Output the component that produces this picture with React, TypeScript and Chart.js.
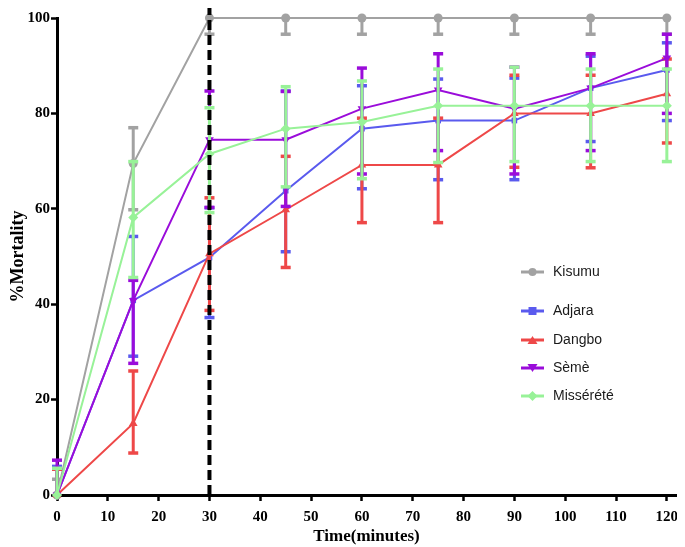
import { useEffect, useRef } from "react";
import { Chart, registerables } from "chart.js";

Chart.register(...registerables);

const times = [0, 15, 30, 45, 60, 75, 90, 105, 120];
const xTicks = [0, 10, 20, 30, 40, 50, 60, 70, 80, 90, 100, 110, 120];
const yTicks = [0, 20, 40, 60, 80, 100];
const seriesNames = ["Kisumu", "Adjara", "Dangbo", "Sèmè", "Missérété"];
const seriesColors = ["#A2A2A2", "#5A5AEE", "#EE4848", "#9A0CDA", "#98F298"];

const kisumu = [0, 69.5, 100, 100, 100, 100, 100, 100, 100];
const kisumuHi = [3.3, 77, 100, 100, 100, 100, 100, 100, 100];
const kisumuLo = [0, 59.8, 96.6, 96.6, 96.6, 96.6, 96.6, 96.6, 96.6];

const adjara = [0, 40.8, 49.8, 63.8, 76.8, 78.5, 78.5, 85.3, 89.1];
const adjaraHi = [6, 54.2, 60.2, 84.7, 85.8, 87.2, 87.4, 92, 94.8];
const adjaraLo = [0, 29.1, 37.2, 51, 64.2, 66.1, 66.1, 74.1, 78.5];

const dangbo = [0, 15, 50.6, 59.8, 69.2, 69.2, 80, 80, 84.1];
const dangboHi = [5.4, 26, 62.3, 71, 79, 79, 88, 88, 91.4];
const dangboLo = [0, 8.8, 38.7, 47.7, 57.1, 57.1, 68.7, 68.6, 73.8];

const seme = [0, 40.8, 74.5, 74.5, 81, 84.9, 81, 85.3, 91.6];
const semeHi = [7.3, 45, 84.7, 84.6, 89.5, 92.5, 89.7, 92.5, 96.6];
const semeLo = [0, 27.6, 60.3, 60.5, 67.3, 72.2, 67.3, 72.2, 80];

const misserete = [0, 58.2, 71.5, 76.8, 78.2, 81.6, 81.6, 81.6, 81.6];
const missereteHi = [5.6, 69.9, 81.2, 85.6, 86.8, 89.3, 89.7, 89.3, 89.3];
const missereteLo = [0, 45.6, 59.2, 64.6, 66.3, 69.7, 69.9, 69.9, 69.9];

const seriesValues = [kisumu, adjara, dangbo, seme, misserete];
const seriesHi = [kisumuHi, adjaraHi, dangboHi, semeHi, missereteHi];
const seriesLo = [kisumuLo, adjaraLo, dangboLo, semeLo, missereteLo];
const pointStyles = ["circle", "rect", "triangle", "triangle", "rectRot"];
const pointRotations = [0, 0, 0, 180, 0];
const pointRadii = [4.5, 4, 5, 5, 5];
const dashedLineX = 30;

const errorBarPlugin = {
  id: "errorBars",
  afterDatasetDraw(chart: any, args: any) {
    const i = args.index;
    const ds = chart.data.datasets[i];
    const hi = ds.errHi as number[];
    const lo = ds.errLo as number[];
    const xs = chart.scales.x;
    const ys = chart.scales.y;
    const ctx = chart.ctx;
    ctx.save();
    ctx.strokeStyle = ds.borderColor;
    ctx.lineCap = "butt";
    ds.data.forEach((p: any, k: number) => {
      const px = xs.getPixelForValue(p.x);
      const py = ys.getPixelForValue(p.y);
      [hi[k], lo[k]].forEach((v) => {
        if (v === undefined || Math.abs(v - p.y) < 0.01) return;
        const ey = ys.getPixelForValue(v);
        ctx.lineWidth = 3;
        ctx.beginPath();
        ctx.moveTo(px, py);
        ctx.lineTo(px, ey);
        ctx.stroke();
        ctx.lineWidth = 3.5;
        ctx.beginPath();
        ctx.moveTo(px - 5, ey);
        ctx.lineTo(px + 5, ey);
        ctx.stroke();
      });
    });
    ctx.restore();
  },
  afterDatasetsDraw(chart: any) {
    const ctx = chart.ctx;
    const xs = chart.scales.x;
    const px = xs.getPixelForValue(dashedLineX);
    ctx.save();
    ctx.strokeStyle = "#000";
    ctx.lineWidth = 4;
    ctx.setLineDash([10, 5]);
    ctx.beginPath();
    ctx.moveTo(px, chart.chartArea.bottom);
    ctx.lineTo(px, 0);
    ctx.stroke();
    ctx.restore();
  },
  afterDraw(chart: any) {
    const ctx = chart.ctx;
    const rows = [264, 303, 332, 360, 388];
    ctx.save();
    seriesNames.forEach((name, i) => {
      const y = rows[i];
      const x0 = 513;
      const x1 = 536;
      ctx.strokeStyle = seriesColors[i];
      ctx.lineWidth = 3;
      ctx.setLineDash([]);
      ctx.beginPath();
      ctx.moveTo(x0, y);
      ctx.lineTo(x1, y);
      ctx.stroke();
      ctx.fillStyle = seriesColors[i];
      const cx = (x0 + x1) / 2;
      ctx.beginPath();
      const s = pointStyles[i];
      if (s === "circle") {
        ctx.arc(cx, y, 4, 0, Math.PI * 2);
      } else if (s === "rect") {
        ctx.rect(cx - 4, y - 4, 8, 8);
      } else if (s === "rectRot") {
        ctx.moveTo(cx, y - 5);
        ctx.lineTo(cx + 5, y);
        ctx.lineTo(cx, y + 5);
        ctx.lineTo(cx - 5, y);
        ctx.closePath();
      } else if (pointRotations[i] === 180) {
        ctx.moveTo(cx - 5, y - 4);
        ctx.lineTo(cx + 5, y - 4);
        ctx.lineTo(cx, y + 4);
        ctx.closePath();
      } else {
        ctx.moveTo(cx - 5, y + 4);
        ctx.lineTo(cx + 5, y + 4);
        ctx.lineTo(cx, y - 4);
        ctx.closePath();
      }
      ctx.fill();
      ctx.fillStyle = "#1a1a1a";
      ctx.font = "14px 'Liberation Sans', Arial, sans-serif";
      ctx.textBaseline = "middle";
      ctx.textAlign = "left";
      ctx.fillText(name, 545, y);
    });
    ctx.restore();
  },
};

export default function App() {
  const ref = useRef<HTMLCanvasElement | null>(null);
  useEffect(() => {
    if (!ref.current) return;
    const datasets = seriesNames.map((name, i) => ({
      label: name,
      data: times.map((t, k) => ({ x: t, y: seriesValues[i][k] })),
      errHi: seriesHi[i],
      errLo: seriesLo[i],
      borderColor: seriesColors[i],
      backgroundColor: seriesColors[i],
      borderWidth: 2,
      pointStyle: pointStyles[i],
      pointRotation: pointRotations[i],
      pointRadius: pointRadii[i],
      pointBorderWidth: 0,
      tension: 0,
      clip: false,
      order: 5 - i,
    }));
    const serif = "'Liberation Serif', 'Times New Roman', serif";
    const chart = new Chart(ref.current, {
      type: "line",
      data: { datasets } as any,
      plugins: [errorBarPlugin],
      options: {
        animation: false,
        responsive: false,
        maintainAspectRatio: false,
        layout: { padding: { top: 10, right: 0, left: 0, bottom: 0 } },
        plugins: { legend: { display: false }, tooltip: { enabled: false } },
        scales: {
          x: {
            type: "linear",
            min: 0,
            max: 121.8,
            afterBuildTicks: (s: any) => {
              s.ticks = xTicks.map((v) => ({ value: v }));
            },
            afterFit: (s: any) => {
              s.height = 52;
              s.paddingLeft = 0;
              s.paddingRight = 0;
            },
            ticks: {
              color: "#000",
              padding: 7,
              font: { family: serif, size: 15, weight: "bold" },
            },
            grid: {
              display: true,
              drawOnChartArea: false,
              drawTicks: true,
              tickLength: 6,
              tickWidth: 2.5,
              tickColor: "#000",
            },
            border: { display: true, color: "#000", width: 3 },
            title: {
              display: true,
              text: "Time(minutes)",
              color: "#000",
              padding: { top: 0, bottom: 0 },
              font: { family: serif, size: 17, weight: "bold" },
            },
          },
          y: {
            type: "linear",
            min: 0,
            max: 100,
            afterBuildTicks: (s: any) => {
              s.ticks = yTicks.map((v) => ({ value: v }));
            },
            afterFit: (s: any) => {
              s.width = 49;
              s.paddingTop = 0;
              s.paddingBottom = 0;
            },
            ticks: {
              color: "#000",
              padding: 1,
              font: { family: serif, size: 15, weight: "bold" },
            },
            grid: {
              display: true,
              drawOnChartArea: false,
              drawTicks: true,
              tickLength: 6,
              tickWidth: 2.5,
              tickColor: "#000",
            },
            border: { display: true, color: "#000", width: 3 },
            title: {
              display: true,
              text: "%Mortality",
              color: "#000",
              padding: { top: 0, bottom: 0 },
              font: { family: serif, size: 18, weight: "bold" },
            },
          },
        },
      } as any,
    });
    return () => chart.destroy();
  }, []);
  return (
    <div style={{ width: 669, height: 539, overflow: "hidden" }}>
      <canvas ref={ref} width={673} height={539} style={{ width: 673, height: 539, display: "block" }} />
    </div>
  );
}
